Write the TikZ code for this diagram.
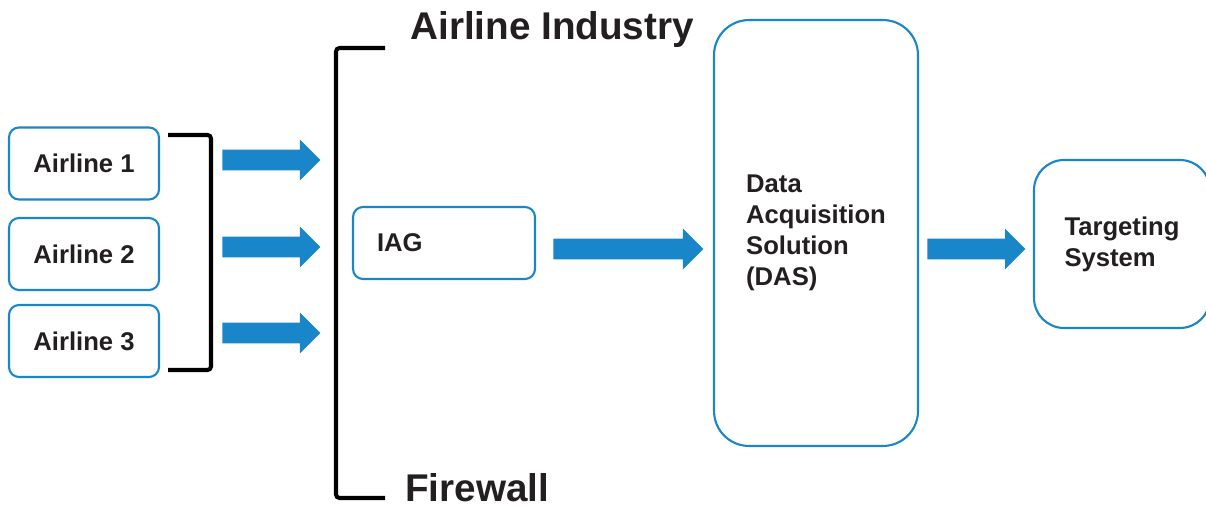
\documentclass[tikz,border=0pt]{standalone}
\usepackage{fontspec}
\setmainfont{Liberation Sans}
\usetikzlibrary{positioning,shapes.arrows}
\definecolor{DasBlue}{RGB}{24,134,200}
\definecolor{DasInk}{RGB}{35,31,32}
\tikzset{
  das/box/.style={
    draw=DasBlue,
    line width=1.2pt,
    rounded corners=0.2cm,
    fill=white,
    align=center,
    text=DasInk,
    inner sep=0pt,
    font=\fontsize{14.6}{17.6}\selectfont\bfseries
  },
  das/arrow/.style={
    single arrow,
    anchor=west,
    fill=DasBlue,
    draw=none,
    inner xsep=0pt,
    inner ysep=0.2cm,
    single arrow head extend=0.2cm,
    single arrow head indent=0cm,
    minimum height=1.96cm
  },
  das/bracket/.style={draw=black, line width=2.3pt, rounded corners=2pt},
  das/title/.style={font=\fontsize{22}{26}\selectfont\bfseries, text=DasInk, inner sep=0pt}
}

\begin{document}
\begin{tikzpicture}[x=0.02cm,y=-0.02cm]
  \useasboundingbox (0,0) rectangle (1206,506);
  \foreach \i/\y in {1/163.5,2/254,3/341}{
    \node[das/box,minimum width=3cm,minimum height=1.44cm] (air\i) at (84,\y) {Airline \i};
  }
  \draw[das/bracket] (168,135) -- (211,135) -- (211,370) -- (168,370);
  \foreach \i/\y in {1/160,2/247,3/333}{
    \node[das/arrow] (arr\i) at (222,\y) {};
  }
  \draw[das/bracket] (385,48) -- (336,48) -- (336,498) -- (385,498);
  \node[das/title,anchor=base west] (industry) at (410,40) {Airline Industry};
  \node[das/title,anchor=base west] (firewall) at (405,501) {Firewall};
  \node[das/box,minimum width=3.64cm,minimum height=1.44cm,text width=2.68cm,align=left] (iag) at (444,243) {IAG};
  \node[das/arrow,minimum height=3cm] (arr4) at (553,249) {};
  \node[das/box,minimum width=4.08cm,minimum height=8.52cm,rounded corners=0.7cm,align=left] (das) at (816,233) {Data\\Acquisition\\Solution\\(DAS)};
  \node[das/arrow] (arr5) at (927,249) {};
  \node[das/box,minimum width=3.52cm,minimum height=3.36cm,rounded corners=0.6cm,align=left] (target) at (1122,244) {Targeting\\System};
\end{tikzpicture}
\end{document}
